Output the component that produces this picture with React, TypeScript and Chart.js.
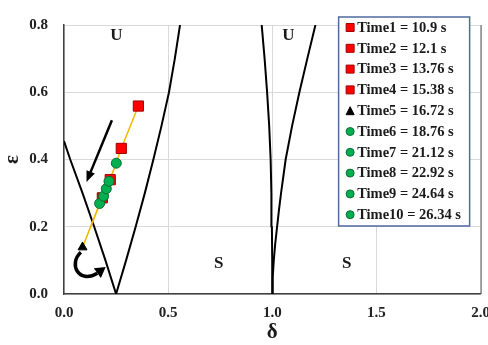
import React, { useEffect, useRef } from 'react';
import { Chart, registerables } from 'chart.js';

Chart.register(...registerables);

// ---- data ----
const SERIES_NAMES = [
  'Time1 = 10.9 s',
  'Time2 = 12.1 s',
  'Time3 = 13.76 s',
  'Time4 = 15.38 s',
  'Time5 = 16.72 s',
  'Time6 = 18.76 s',
  'Time7 = 21.12 s',
  'Time8 = 22.92 s',
  'Time9 = 24.64 s',
  'Time10 = 26.34 s',
];
const DELTA = [0.357, 0.275, 0.222, 0.184, 0.089, 0.171, 0.19, 0.203, 0.216, 0.251];
const EPS = [0.559, 0.433, 0.34, 0.286, 0.139, 0.269, 0.291, 0.313, 0.335, 0.389];
const MARKERS = ['rect', 'rect', 'rect', 'rect', 'triangle', 'circle', 'circle', 'circle', 'circle', 'circle'];

// stability boundaries
const T1_LEFT_D = [0, 0.03, 0.089, 0.145, 0.199, 0.25];
const T1_LEFT_E = [0.455, 0.4, 0.3, 0.2, 0.1, 0];
const T1_RIGHT_D = [0.25, 0.298, 0.344, 0.388, 0.429, 0.468, 0.504, 0.532, 0.557];
const T1_RIGHT_E = [0, 0.1, 0.2, 0.3, 0.4, 0.5, 0.6, 0.7, 0.8];
const T2_LEFT_D = [1, 0.9995, 0.998, 0.9955, 0.992, 0.985, 0.975, 0.963, 0.949];
const T2_LEFT_E = [0, 0.1, 0.2, 0.3, 0.4, 0.5, 0.6, 0.7, 0.8];
const T2_RIGHT_D = [1, 1.002, 1.007, 1.014, 1.023, 1.032, 1.042, 1.064, 1.095, 1.13, 1.168, 1.207];
const T2_RIGHT_E = [0, 0.05, 0.1, 0.15, 0.2, 0.25, 0.3, 0.4, 0.5, 0.6, 0.7, 0.8];

const X_TICKS = [0, 0.5, 1.0, 1.5, 2.0];
const Y_TICKS = [0, 0.2, 0.4, 0.6, 0.8];

const REGION_LABELS = ['U', 'U', 'S', 'S'];
const REGION_D = [0.252, 1.077, 0.743, 1.357];
const REGION_E = [0.767, 0.767, 0.091, 0.091];

const FONT = "'Liberation Serif', 'Times New Roman', serif";

const colorFor = (m: string) =>
  m === 'rect'
    ? { fill: '#FF0000', stroke: '#A00000' }
    : m === 'triangle'
    ? { fill: '#000000', stroke: '#000000' }
    : { fill: '#00B050', stroke: '#0B6B32' };

const zip = (xs: number[], ys: number[]) => xs.map((x, i) => ({ x, y: ys[i] }));

function drawMarker(ctx: CanvasRenderingContext2D, kind: string, x: number, y: number, s: number) {
  const c = colorFor(kind);
  ctx.save();
  ctx.fillStyle = c.fill;
  ctx.strokeStyle = c.stroke;
  ctx.lineWidth = 1;
  ctx.beginPath();
  if (kind === 'rect') {
    ctx.rect(x - s / 2, y - s / 2, s, s);
  } else if (kind === 'triangle') {
    ctx.moveTo(x, y - s / 2);
    ctx.lineTo(x + s / 2, y + s / 2);
    ctx.lineTo(x - s / 2, y + s / 2);
    ctx.closePath();
  } else {
    ctx.arc(x, y, s / 2, 0, Math.PI * 2);
  }
  ctx.fill();
  ctx.stroke();
  ctx.restore();
}

const annotPlugin = {
  id: 'annot',
  afterDatasetsDraw(chart: any) {
    const { ctx } = chart;
    const xs = chart.scales.x;
    const ys = chart.scales.y;
    const px = (d: number) => xs.getPixelForValue(d);
    const py = (e: number) => ys.getPixelForValue(e);
    ctx.save();
    // region labels
    ctx.fillStyle = '#1a1a1a';
    ctx.font = `bold 17px ${FONT}`;
    ctx.textAlign = 'center';
    ctx.textBaseline = 'middle';
    REGION_LABELS.forEach((t, i) => ctx.fillText(t, px(REGION_D[i]), py(REGION_E[i])));

    // straight arrow
    const ax0 = px(0.23), ay0 = py(0.517), ax1 = px(0.108), ay1 = py(0.333);
    const ang = Math.atan2(ay1 - ay0, ax1 - ax0);
    const hl = 11, hw = 4.5;
    ctx.strokeStyle = '#000';
    ctx.fillStyle = '#000';
    ctx.lineWidth = 2.5;
    ctx.beginPath();
    ctx.moveTo(ax0, ay0);
    ctx.lineTo(ax1 - Math.cos(ang) * hl * 0.8, ay1 - Math.sin(ang) * hl * 0.8);
    ctx.stroke();
    ctx.beginPath();
    ctx.moveTo(ax1, ay1);
    ctx.lineTo(ax1 - Math.cos(ang) * hl + Math.sin(ang) * hw, ay1 - Math.sin(ang) * hl - Math.cos(ang) * hw);
    ctx.lineTo(ax1 - Math.cos(ang) * hl - Math.sin(ang) * hw, ay1 - Math.sin(ang) * hl + Math.cos(ang) * hw);
    ctx.closePath();
    ctx.fill();

    // curved arrow
    const sx = px(0.081), sy = py(0.124);
    const c1x = px(0.02), c1y = py(0.09);
    const c2x = px(0.07), c2y = py(0.028);
    const ex = px(0.16), ey = py(0.062);
    const tx = px(0.2), ty = py(0.08);
    ctx.lineWidth = 3.5;
    ctx.beginPath();
    ctx.moveTo(sx, sy);
    ctx.bezierCurveTo(c1x, c1y, c2x, c2y, ex, ey);
    ctx.stroke();
    const a2 = Math.atan2(ty - ey, tx - ex);
    const hw2 = 6;
    ctx.beginPath();
    ctx.moveTo(tx, ty);
    ctx.lineTo(ex + Math.sin(a2) * hw2, ey - Math.cos(a2) * hw2);
    ctx.lineTo(ex - Math.sin(a2) * hw2, ey + Math.cos(a2) * hw2);
    ctx.closePath();
    ctx.fill();

    // right border
    ctx.strokeStyle = '#595959';
    ctx.lineWidth = 1;
    ctx.beginPath();
    ctx.moveTo(chart.chartArea.right + 0.5, chart.chartArea.top);
    ctx.lineTo(chart.chartArea.right + 0.5, chart.chartArea.bottom);
    ctx.stroke();
    ctx.restore();
  },
  afterDraw(chart: any) {
    const { ctx, chartArea } = chart;
    const w = 131, h = 209;
    const left = chartArea.right - 11 - w;
    const top = chartArea.top - 8;
    ctx.save();
    ctx.fillStyle = '#ffffff';
    ctx.fillRect(left, top, w, h);
    ctx.strokeStyle = '#4F6AA0';
    ctx.lineWidth = 1.5;
    ctx.strokeRect(left, top, w, h);
    ctx.font = `bold 14.5px ${FONT}`;
    ctx.textAlign = 'left';
    ctx.textBaseline = 'middle';
    SERIES_NAMES.forEach((name, i) => {
      const y = top + 10.5 + i * 20.8;
      drawMarker(ctx, MARKERS[i], left + 11.5, y, 8);
      ctx.fillStyle = '#1a1a1a';
      ctx.fillText(name, left + 18.5, y + 0.5);
    });
    ctx.restore();
  },
};

export default function App() {
  const ref = useRef<HTMLCanvasElement | null>(null);
  useEffect(() => {
    if (!ref.current) return;
    const boundary = (d: number[], e: number[]) => ({
      label: '',
      data: zip(d, e),
      showLine: true,
      borderColor: '#000000',
      borderWidth: 2,
      pointRadius: 0,
      tension: 0,
      borderJoinStyle: 'round',
      order: 30,
    });
    const pointSets = SERIES_NAMES.map((name, i) => {
      const c = colorFor(MARKERS[i]);
      return {
        label: name,
        data: [{ x: DELTA[i], y: EPS[i] }],
        pointStyle: MARKERS[i],
        pointRadius: MARKERS[i] === 'rect' ? 7.2 : MARKERS[i] === 'triangle' ? 5.2 : 5,
        backgroundColor: c.fill,
        borderColor: c.stroke,
        borderWidth: 1,
        showLine: false,
        order: 10 - i,
      };
    });
    const chart = new Chart(ref.current, {
      type: 'scatter',
      data: {
        datasets: [
          boundary(T1_LEFT_D, T1_LEFT_E),
          boundary(T1_RIGHT_D, T1_RIGHT_E),
          boundary(T2_LEFT_D, T2_LEFT_E),
          boundary(T2_RIGHT_D, T2_RIGHT_E),
          {
            label: '',
            data: zip(DELTA, EPS),
            showLine: true,
            borderColor: '#F5B800',
            borderWidth: 1.5,
            pointRadius: 0,
            order: 20,
          },
          ...pointSets,
        ] as any,
      },
      options: {
        animation: false,
        responsive: true,
        maintainAspectRatio: false,
        layout: { padding: { top: 22, right: 16, left: 0, bottom: 0 } },
        plugins: { legend: { display: false }, tooltip: { enabled: false } },
        scales: {
          x: {
            type: 'linear',
            min: 0,
            max: 2,
            afterBuildTicks: (s: any) => {
              s.ticks = X_TICKS.map((v) => ({ value: v }));
            },
            afterFit: (s: any) => {
              s.height = 51;
            },
            ticks: {
              font: { family: FONT, size: 15, weight: 'bold' },
              color: '#222',
              padding: 10,
              maxRotation: 0,
              callback: (v: any) => Number(v).toFixed(1),
            },
            grid: { color: '#D9D9D9', lineWidth: 1, drawTicks: false },
            border: { color: '#404040', width: 1.5 },
            title: {
              display: true,
              text: 'δ',
              font: { family: FONT, size: 21, weight: 'bold' },
              color: '#1a1a1a',
              padding: { top: 0, bottom: 0 },
            },
          },
          y: {
            type: 'linear',
            min: 0,
            max: 0.8,
            afterBuildTicks: (s: any) => {
              s.ticks = Y_TICKS.map((v) => ({ value: v }));
            },
            afterFit: (s: any) => {
              s.width = 64;
            },
            ticks: {
              font: { family: FONT, size: 15, weight: 'bold' },
              color: '#222',
              padding: 16,
              callback: (v: any) => Number(v).toFixed(1),
            },
            grid: { color: '#D9D9D9', lineWidth: 1, drawTicks: false },
            border: { color: '#404040', width: 1.5 },
            title: {
              display: true,
              text: 'ε',
              font: { family: FONT, size: 21, weight: 'bold' },
              color: '#1a1a1a',
              padding: { top: 0, bottom: 0 },
            },
          },
        },
      } as any,
      plugins: [annotPlugin],
    });
    return () => chart.destroy();
  }, []);
  return (
    <div style={{ position: 'fixed', left: 0, top: 0, width: 488, height: 345, overflow: 'hidden', background: '#fff' }}>
      <div style={{ position: 'relative', width: 500, height: 345 }}>
        <canvas ref={ref} />
      </div>
    </div>
  );
}
